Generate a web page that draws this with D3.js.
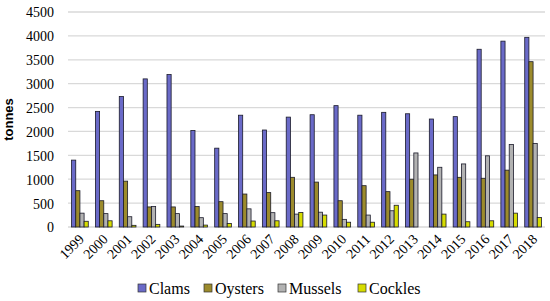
<!DOCTYPE html>
<html>
<head>
<meta charset="utf-8">
<script src="https://cdn.jsdelivr.net/npm/d3@7"></script>
<style>
    body { margin: 0; background: #fff; }
    svg text { fill: #000; }
    .serif { font-family: "Liberation Serif", "DejaVu Serif", serif; }
</style>
</head>
<body>
<svg id="grafico" width="550" height="301"></svg>
<script>

const anos = ["1999","2000","2001","2002","2003","2004","2005","2006","2007","2008",
              "2009","2010","2011","2012","2013","2014","2015","2016","2017","2018"];

const series = ["Clams", "Oysters", "Mussels", "Cockles"];

const clams   = [1400, 2420, 2730, 3100, 3190, 2020, 1650, 2340, 2030, 2300,
                 2350, 2540, 2340, 2400, 2370, 2260, 2310, 3720, 3890, 3970];
const oysters = [760, 550, 960, 420, 420, 430, 530, 690, 720, 1040,
                 940, 550, 865, 740, 1000, 1090, 1040, 1020, 1190, 3460];
const mussels = [290, 280, 215, 430, 280, 195, 280, 380, 300, 270,
                 310, 160, 250, 340, 1550, 1250, 1320, 1490, 1725, 1750];
const cockles = [120, 130, 35, 55, 20, 40, 75, 125, 130, 305,
                 250, 100, 100, 455, 0, 270, 110, 130, 290, 200];

const ticksY = [0, 500, 1000, 1500, 2000, 2500, 3000, 3500, 4000, 4500];

const cores = ["#6a6ac8", "#9c8b2c", "#b2b2b2", "#d6dc00"];

const margem = {left: 68, right: 5, top: 12, bottom: 74};
const largura = 550, altura = 301;

const svg = d3.select("#grafico");

const x0 = d3.scaleBand()
    .domain(anos)
    .range([margem.left, largura - margem.right])
    .paddingInner(0.3)
    .paddingOuter(0.15);

const x1 = d3.scaleBand()
    .domain(series)
    .range([0, x0.bandwidth()]);

const y = d3.scaleLinear()
    .domain([0, 4500])
    .range([altura - margem.bottom, margem.top]);

//Linhas de grade
svg.append("g")
    .selectAll("line")
    .data(ticksY)
    .join("line")
        .attr("x1", margem.left)
        .attr("x2", largura - margem.right)
        .attr("y1", d => y(d))
        .attr("y2", d => y(d))
        .attr("stroke", "#d9d9d9")
        .attr("stroke-width", 1.3);

//Eixo Y
const eixoY = svg.append("g")
    .attr("transform", `translate(${margem.left - 14},0)`)
    .call(d3.axisLeft(y).tickValues(ticksY).tickFormat(d3.format("d")).tickSize(0).tickPadding(0));
eixoY.select(".domain").remove();
eixoY.selectAll("text")
    .attr("class", "serif")
    .style("font-size", "14px")
    .attr("dy", "0.35em");

//Eixo X
const eixoX = svg.append("g")
    .attr("transform", `translate(0,${altura - margem.bottom})`)
    .call(d3.axisBottom(x0).tickSize(0).tickPadding(0));
eixoX.select(".domain").remove();
eixoX.selectAll("text")
    .attr("class", "serif")
    .style("font-size", "14px")
    .attr("text-anchor", "end")
    .attr("dy", null)
    .attr("y", null)
    .attr("transform", "translate(5,13) rotate(-45)");

//Barras
const valores = [clams, oysters, mussels, cockles];

const grupos = svg.append("g")
    .selectAll("g")
    .data(anos)
    .join("g")
        .attr("transform", d => `translate(${x0(d)},0)`);

grupos.selectAll("rect")
    .data((ano, i) => series.map((s, j) => ({serie: s, valor: valores[j][i], cor: cores[j]})))
    .join("rect")
        .filter(d => d.valor > 0)
        .attr("x", d => x1(d.serie))
        .attr("y", d => y(d.valor))
        .attr("width", x1.bandwidth())
        .attr("height", d => y(0) - y(d.valor))
        .attr("fill", d => d.cor)
        .attr("stroke", "#1a1a2a")
        .attr("stroke-width", 0.8);

//Titulo do eixo Y
svg.append("text")
    .attr("transform", `translate(13,${(margem.top + altura - margem.bottom) / 2}) rotate(-90)`)
    .attr("text-anchor", "middle")
    .style("font-family", "'Liberation Sans', sans-serif")
    .style("font-weight", "bold")
    .style("font-size", "13px")
    .text("tonnes");

//Legenda
const posLegenda = [138, 204, 278, 358];

const legenda = svg.append("g")
    .selectAll("g")
    .data(series)
    .join("g")
        .attr("transform", (d, i) => `translate(${posLegenda[i]},288)`);

legenda.append("rect")
    .attr("x", 0)
    .attr("y", -4)
    .attr("width", 8)
    .attr("height", 8)
    .attr("fill", (d, i) => cores[i])
    .attr("stroke", "#333")
    .attr("stroke-width", 0.7);

legenda.append("text")
    .attr("class", "serif")
    .attr("x", 11)
    .attr("dy", "0.35em")
    .style("font-size", "16px")
    .text(d => d);

</script>
</body>
</html>
